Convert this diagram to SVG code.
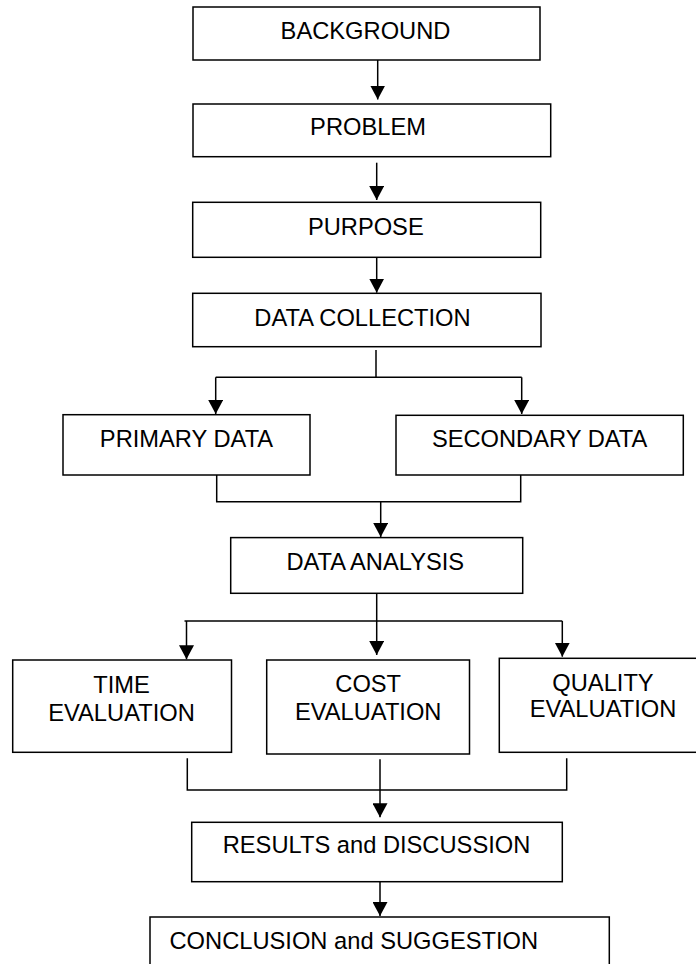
<svg xmlns="http://www.w3.org/2000/svg" width="696" height="964" viewBox="0 0 696 964">
<style>
.box{fill:#fff;stroke:#000;stroke-width:1.5}
.t{font-family:"Liberation Sans",Arial,sans-serif;font-size:23.7px;fill:#000;text-anchor:middle}
.c{fill:none;stroke:#000;stroke-width:1.5}
</style>
<defs>
<marker id="ah" markerUnits="userSpaceOnUse" markerWidth="14" markerHeight="15" viewBox="0 0 14 15" refX="14" refY="7.5" orient="auto">
<path d="M0,0 L14,7.5 L0,15 z" fill="#000"/>
</marker>
</defs>
<rect width="696" height="964" fill="#fff"/>
<g id="connectors">
<path class="c" d="M377.7,60 V99.5" marker-end="url(#ah)"/>
<path class="c" d="M376.7,162.7 V200" marker-end="url(#ah)"/>
<path class="c" d="M376.7,257.3 V292.7" marker-end="url(#ah)"/>
<path class="c" d="M376,350 V377.3"/>
<path class="c" d="M215.7,377.3 H521.7"/>
<path class="c" d="M215.7,377.3 V414" marker-end="url(#ah)"/>
<path class="c" d="M521.7,377.3 V414" marker-end="url(#ah)"/>
<path class="c" d="M216.7,475 V501.7 H520.7 V475"/>
<path class="c" d="M380.7,501.7 V537" marker-end="url(#ah)"/>
<path class="c" d="M376.7,593.3 V655" marker-end="url(#ah)"/>
<path class="c" d="M184.5,621 H562.3"/>
<path class="c" d="M186.5,621 V659.3" marker-end="url(#ah)"/>
<path class="c" d="M562.3,621 V656.7" marker-end="url(#ah)"/>
<path class="c" d="M187.3,758.3 V790 H566.7 V758.3"/>
<path class="c" d="M380,759.3 V817.3" marker-end="url(#ah)"/>
<path class="c" d="M380,881.7 V916" marker-end="url(#ah)"/>
</g>
<g id="background"><rect class="box" x="193" y="7" width="347" height="53"/><text class="t" x="365.5" y="38.5">BACKGROUND</text></g>
<g id="problem"><rect class="box" x="193" y="104" width="357.7" height="52.7"/><text class="t" x="368" y="135">PROBLEM</text></g>
<g id="purpose"><rect class="box" x="192.7" y="202.3" width="348" height="55"/><text class="t" x="365.8" y="235">PURPOSE</text></g>
<g id="data-collection"><rect class="box" x="192.7" y="293.3" width="348.3" height="53.4"/><text class="t" x="362.5" y="326">DATA COLLECTION</text></g>
<g id="primary-data"><rect class="box" x="63" y="414.7" width="247" height="60.3"/><text class="t" x="186.5" y="446.7">PRIMARY DATA</text></g>
<g id="secondary-data"><rect class="box" x="396" y="415.3" width="287.3" height="59.7"/><text class="t" x="539.6" y="447.3">SECONDARY DATA</text></g>
<g id="data-analysis"><rect class="box" x="230.7" y="537.6" width="292" height="55.7"/><text class="t" x="375.3" y="569.8">DATA ANALYSIS</text></g>
<g id="time-evaluation"><rect class="box" x="12.7" y="660" width="218.8" height="92.3"/><text class="t" x="121.5" y="693.3">TIME</text><text class="t" x="121.5" y="720.7">EVALUATION</text></g>
<g id="cost-evaluation"><rect class="box" x="266.7" y="660" width="202.8" height="94"/><text class="t" x="368.2" y="691.7">COST</text><text class="t" x="368.2" y="720">EVALUATION</text></g>
<g id="quality-evaluation"><rect class="box" x="499.3" y="658.3" width="207.7" height="94"/><text class="t" x="603" y="691">QUALITY</text><text class="t" x="603" y="717">EVALUATION</text></g>
<g id="results-discussion"><rect class="box" x="191.7" y="822.3" width="370.6" height="59.4"/><text class="t" x="376.5" y="853.3">RESULTS and DISCUSSION</text></g>
<g id="conclusion-suggestion"><rect class="box" x="150" y="917" width="459.3" height="70"/><text class="t" x="353.8" y="949.3">CONCLUSION and SUGGESTION</text></g>
</svg>
